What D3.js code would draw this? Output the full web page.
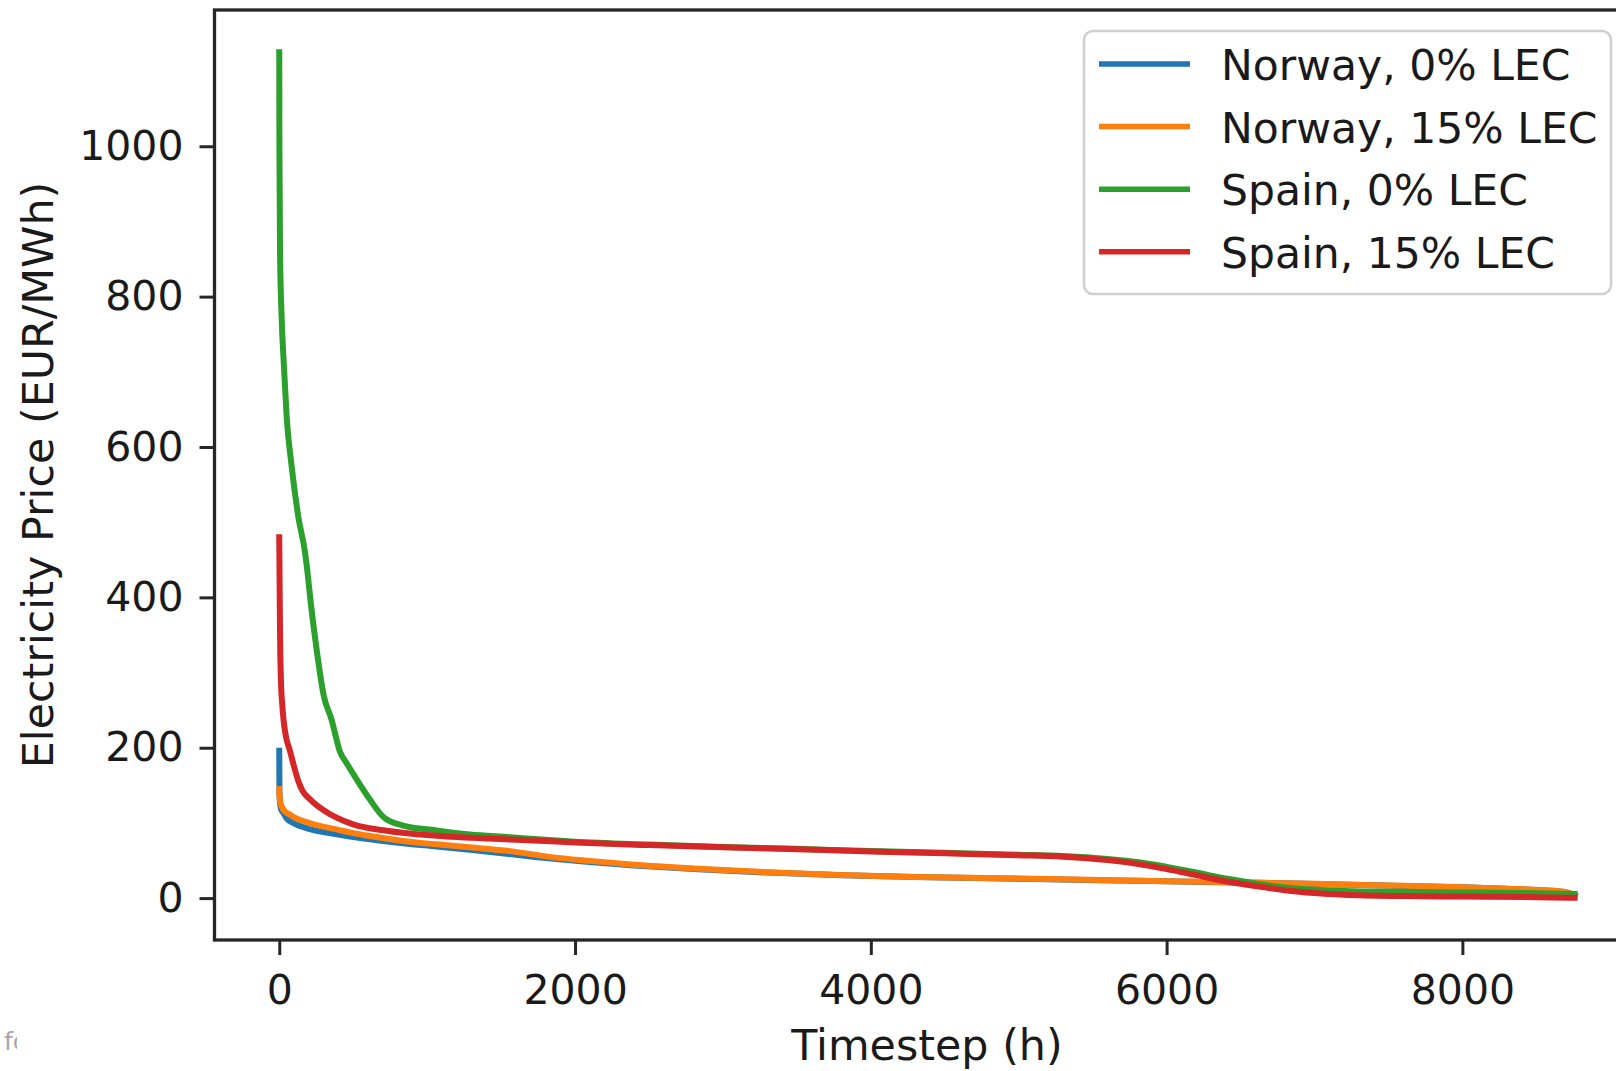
<!DOCTYPE html>
<meta charset="utf-8">
<style>
body {
  margin: 0;
  background: #fff;
  font-family: "DejaVu Sans";
}
.tick text {
  font-size: 41px;
  fill: #1a1a1a;
}
.tick line {
  stroke: #262626;
  stroke-width: 3;
}
.frame {
  fill: none;
  stroke: #262626;
  stroke-width: 3.3;
}
.series {
  fill: none;
  stroke-width: 6;
  stroke-linejoin: round;
  stroke-linecap: square;
}
.label {
  font-size: 42.8px;
  fill: #1a1a1a;
}
.legend text {
  font-size: 42.5px;
  fill: #1a1a1a;
}
</style>
<body>
<script src="https://cdn.jsdelivr.net/npm/d3@7"></script>
<script>

var width = 1616,
    height = 1071;

var plot = {left: 214.5, top: 10, right: 1639.4, bottom: 940};

// price duration curves, [hour, EUR/MWh]
var norway0 = [[0,196],[1,150],[3,132],[8,122],[15,117],[27,113.6],[50,106],[95,100],[207,91.7],
  [388,85],[613,78.4],[838,73.1],[1064,68.7],[1289,64.2],[1560,58.5],[1840,52.5],[2100,48],
  [2400,43.5],[2800,38.8],[3300,34],[3800,30.5],[4300,28],[5100,25.5],[6000,22.3],[6600,20.4],
  [7000,18.8],[7600,16.1],[8000,14.3],[8300,12.3],[8550,10.3],[8700,7.8],[8759,3.8]];

var norway15 = [[0,145],[3,133],[8,127],[16,122],[40,115],[72,111],[100,107.5],[162,102.5],
  [275,96],[388,91.4],[500,86.5],[613,82.5],[838,76],[1064,71.5],[1289,67.5],[1560,62.5],
  [1840,54.5],[2100,49.5],[2400,44.5],[2800,39.5],[3300,34.5],[3800,30.8],[4300,28.2],
  [5100,25.8],[6000,22.5],[6600,20.6],[7000,19],[7600,16.3],[8000,14.5],[8300,12.5],
  [8550,10.5],[8700,8],[8759,4]];

var spain0 = [[0,1125],[1,1000],[5,862],[16,773],[32,706],[50,640],[84,574],[129,507],
  [174,460],[190,435],[210,398],[253,330],[300,270],[354,237],[410,195],[460,178],[523,158],
  [613,131],[704,108],[838,96.5],[1064,90],[1289,84.5],[1560,81],[1800,77.5],[2000,75],
  [2500,71.2],[3000,68.1],[3500,65.5],[4000,62.6],[4500,60.2],[5000,57.8],[5300,56],
  [5600,52],[5800,48],[6000,41.5],[6200,34],[6400,26],[6600,19.5],[6800,14],[7000,11],
  [7200,9.5],[7600,8.3],[8000,7.6],[8500,6.5],[8759,5.5]];

var spain15 = [[0,480],[3,400],[6,340],[12,285],[20,258],[30,235],[45,215],[72,196],[100,175],
  [130,155],[162,141],[200,133],[250,124],[300,117],[388,107],[500,98],[726,89.5],[1064,82.8],
  [1560,78],[1800,75.8],[2000,74],[2500,70.5],[3000,67.5],[3500,65],[4000,62],[4500,59.5],
  [5000,57],[5300,55],[5600,50.5],[5800,45.5],[6000,38.5],[6200,30.5],[6400,22.5],[6600,16],
  [6800,10.5],[7000,6.8],[7200,4.5],[7600,2.7],[8000,2],[8500,1.2],[8759,0.5]];

var seriesNames = ["Norway, 0% LEC", "Norway, 15% LEC", "Spain, 0% LEC", "Spain, 15% LEC"];
var seriesValues = [norway0, norway15, spain0, spain15];
var colors = ["#1f77b4", "#ff7f0e", "#2ca02c", "#d62728"];

var xTicks = [0, 2000, 4000, 6000, 8000];
var yTicks = [0, 200, 400, 600, 800, 1000];

var all = d3.merge(seriesValues);

// matplotlib style 5% margins
function padded(ext) {
  var m = (ext[1] - ext[0]) * 0.05;
  return [ext[0] - m, ext[1] + m];
}

var x = d3.scaleLinear()
    .domain(padded(d3.extent(all, function(d) { return d[0]; })))
    .range([plot.left, plot.right]);

var y = d3.scaleLinear()
    .domain(padded(d3.extent(all, function(d) { return d[1]; })))
    .range([plot.bottom, plot.top]);

var svg = d3.select("body").append("svg")
    .attr("width", width)
    .attr("height", height);

var line = d3.line()
    .curve(d3.curveMonotoneX)
    .x(function(d) { return x(d[0]); })
    .y(function(d) { return y(d[1]); });

svg.append("clipPath")
    .attr("id", "plotclip")
  .append("rect")
    .attr("x", plot.left)
    .attr("y", plot.top)
    .attr("width", plot.right - plot.left)
    .attr("height", plot.bottom - plot.top);

svg.append("g")
    .attr("clip-path", "url(#plotclip)")
  .selectAll(".series")
    .data(seriesValues)
  .enter().append("path")
    .attr("class", "series")
    .attr("stroke", function(d, i) { return colors[i]; })
    .attr("d", line);

var xAxis = svg.append("g")
    .attr("transform", "translate(0," + plot.bottom + ")")
    .call(d3.axisBottom(x).tickValues(xTicks).tickSize(15).tickPadding(20).tickFormat(d3.format("d")));

var yAxis = svg.append("g")
    .attr("transform", "translate(" + plot.left + ",0)")
    .call(d3.axisLeft(y).tickValues(yTicks).tickSize(15).tickPadding(16).tickFormat(d3.format("d")));

xAxis.select(".domain").remove();
yAxis.select(".domain").remove();
svg.selectAll(".tick line").attr("stroke", null);
svg.selectAll(".tick text").attr("fill", null);
xAxis.attr("font-size", null).attr("font-family", null);
yAxis.attr("font-size", null).attr("font-family", null);

svg.append("rect")
    .attr("class", "frame")
    .attr("x", plot.left)
    .attr("y", plot.top)
    .attr("width", plot.right - plot.left)
    .attr("height", plot.bottom - plot.top);

svg.append("text")
    .attr("class", "label")
    .attr("text-anchor", "middle")
    .attr("x", (plot.left + plot.right) / 2)
    .attr("y", 1060)
    .text("Timestep (h)");

svg.append("text")
    .attr("class", "label")
    .attr("text-anchor", "middle")
    .attr("transform", "translate(53," + (plot.top + plot.bottom) / 2 + ") rotate(-90)")
    .text("Electricity Price (EUR/MWh)");

// legend
var legend = svg.append("g")
    .attr("class", "legend");

legend.append("rect")
    .attr("x", 1084)
    .attr("y", 31)
    .attr("width", 527)
    .attr("height", 263)
    .attr("rx", 9)
    .attr("fill", "#fff")
    .attr("fill-opacity", 0.8)
    .attr("stroke", "#cfcfcf")
    .attr("stroke-width", 2.5);

var rows = legend.selectAll(".row")
    .data(seriesNames)
  .enter().append("g")
    .attr("class", "row")
    .attr("transform", function(d, i) { return "translate(0," + (64 + i * 62.6) + ")"; });

rows.append("line")
    .attr("x1", 1099)
    .attr("x2", 1190)
    .attr("stroke", function(d, i) { return colors[i]; })
    .attr("stroke-width", 5.5);

rows.append("text")
    .attr("x", 1221)
    .attr("y", 16)
    .text(function(d) { return d; });

// clipped caption fragment at the page edge
svg.append("clipPath")
    .attr("id", "capclip")
  .append("rect")
    .attr("x", 0)
    .attr("y", 1020)
    .attr("width", 17)
    .attr("height", 40);

svg.append("text")
    .attr("clip-path", "url(#capclip)")
    .attr("x", 4)
    .attr("y", 1050)
    .attr("font-family", "Open Sans")
    .attr("font-size", 26)
    .attr("fill", "#a3a3ad")
    .text("fo");

</script>
